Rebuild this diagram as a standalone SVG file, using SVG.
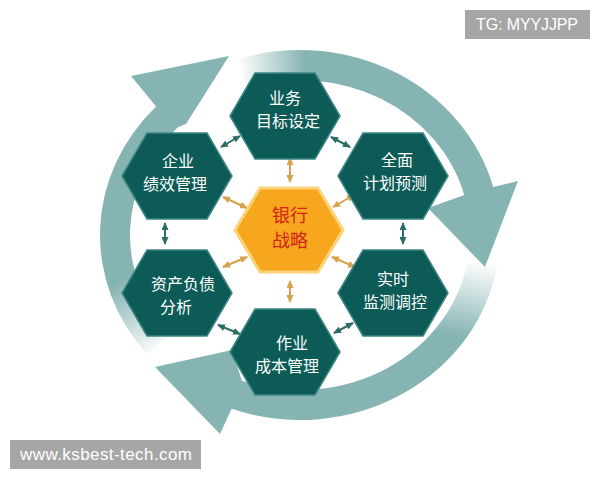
<svg xmlns="http://www.w3.org/2000/svg" width="600" height="480" viewBox="0 0 600 480">
<style>
.hex{fill:#0c5b57;stroke:#3d8782;stroke-width:1.5}
.core{fill:#f6a71e;stroke:#fcd27a;stroke-width:3}
.t{font-family:"Noto Sans CJK SC","Noto Sans",sans-serif;font-size:16px;fill:#ffffff;text-anchor:middle}
.tc{font-family:"Noto Sans CJK SC","Noto Sans",sans-serif;font-size:18px;fill:#d42418;text-anchor:middle}
.lt{stroke:#2c6e66;stroke-width:2;fill:none;marker-start:url(#mt);marker-end:url(#mt)}
.lo{stroke:#d8a24c;stroke-width:2;fill:none;marker-start:url(#mo);marker-end:url(#mo)}
.wm{fill:#a6a6a6}
.wt{font-family:"Liberation Sans",Arial,sans-serif;font-size:16px;fill:#ffffff}
</style>
<defs>
<marker id="mt" markerUnits="userSpaceOnUse" markerWidth="8" markerHeight="7" refX="7" refY="3.5" orient="auto-start-reverse"><path d="M0,0 L8,3.5 L0,7 z" fill="#2c6e66"/></marker>
<marker id="mo" markerUnits="userSpaceOnUse" markerWidth="8" markerHeight="7" refX="7" refY="3.5" orient="auto-start-reverse"><path d="M0,0 L8,3.5 L0,7 z" fill="#d8a24c"/></marker>
<linearGradient id="g1" gradientUnits="userSpaceOnUse" x1="238" y1="60" x2="305" y2="55"><stop offset="0" stop-color="#ffffff"/><stop offset="1" stop-color="#86b4b3"/></linearGradient>
<linearGradient id="g2" gradientUnits="userSpaceOnUse" x1="482" y1="262" x2="468" y2="338"><stop offset="0" stop-color="#ffffff"/><stop offset="1" stop-color="#86b4b3"/></linearGradient>
<linearGradient id="g3" gradientUnits="userSpaceOnUse" x1="160" y1="352" x2="110" y2="288"><stop offset="0" stop-color="#ffffff"/><stop offset="1" stop-color="#86b4b3"/></linearGradient>
</defs>
<g id="cycle">
<path d="M498.1,260.8 A200,185 0 0 1 231.6,408.8 L220,434 L155,367 L232,350 L241.9,380.7 A170,155 0 0 0 468.4,256.6 Z" fill="url(#g2)"/>
<path d="M238.2,59 A200,185 0 0 1 493.2,187.1 L518,181 L485,267 L428,208 L464.2,194.9 A170,155 0 0 0 247.5,87.6 Z" fill="url(#g1)"/>
<path d="M146.8,353.9 A200,185 0 0 1 156.1,106.5 L131,76 L229,56 L186,124 L177.7,127.3 A170,155 0 0 0 169.8,334.6 Z" fill="url(#g3)"/>
</g>
<g id="connectors">
<line class="lt" x1="221" y1="147" x2="240" y2="136"/>
<line class="lt" x1="331" y1="137" x2="350" y2="147"/>
<line class="lt" x1="165" y1="223" x2="165" y2="244"/>
<line class="lt" x1="403" y1="223" x2="403" y2="244"/>
<line class="lt" x1="218" y1="325" x2="240" y2="334"/>
<line class="lt" x1="334" y1="333" x2="353" y2="323"/>
<line class="lo" x1="290" y1="158" x2="290" y2="182"/>
<line class="lo" x1="290" y1="281" x2="290" y2="302"/>
<line class="lo" x1="223" y1="197" x2="247" y2="208"/>
<line class="lo" x1="333" y1="207" x2="354" y2="195"/>
<line class="lo" x1="223" y1="267" x2="247" y2="257"/>
<line class="lo" x1="332" y1="257" x2="355" y2="267"/>
</g>
<g id="n-goal">
<polygon class="hex" points="230,116 255,73 315,73 340,116 315,159 255,159"/>
<text class="t" x="285" y="104">业务</text>
<text class="t" x="288" y="127">目标设定</text>
</g>
<g id="n-perf">
<polygon class="hex" points="122,176 147,133 207,133 232,176 207,219 147,219"/>
<text class="t" x="178" y="166.5">企业</text>
<text class="t" x="175" y="189.5">绩效管理</text>
</g>
<g id="n-plan">
<polygon class="hex" points="338,176 363,133 423,133 448,176 423,219 363,219"/>
<text class="t" x="397" y="166">全面</text>
<text class="t" x="395" y="189">计划预测</text>
</g>
<g id="n-alm">
<polygon class="hex" points="122,293 147,250 207,250 232,293 207,336 147,336"/>
<text class="t" x="183" y="289.5">资产负债</text>
<text class="t" x="176" y="312.5">分析</text>
</g>
<g id="n-monitor">
<polygon class="hex" points="338,293 363,250 423,250 448,293 423,336 363,336"/>
<text class="t" x="393" y="284.5">实时</text>
<text class="t" x="395" y="307.5">监测调控</text>
</g>
<g id="n-cost">
<polygon class="hex" points="230,352 255,309 315,309 340,352 315,395 255,395"/>
<text class="t" x="292" y="348.5">作业</text>
<text class="t" x="287" y="371.5">成本管理</text>
</g>
<g id="n-strategy">
<polygon class="core" points="235,230 260,188 318,188 343,230 318,272 260,272"/>
<text class="tc" x="290" y="222">银行</text>
<text class="tc" x="290" y="247">战略</text>
</g>
<g id="wm-tg">
<rect class="wm" x="465" y="10" width="125" height="29"/>
<text class="wt" x="476" y="30" textLength="102">TG: MYYJJPP</text>
</g>
<g id="wm-url">
<rect class="wm" x="10" y="440" width="191" height="29"/>
<text class="wt" x="20" y="460" textLength="172" style="font-size:17px">www.ksbest-tech.com</text>
</g>
</svg>
